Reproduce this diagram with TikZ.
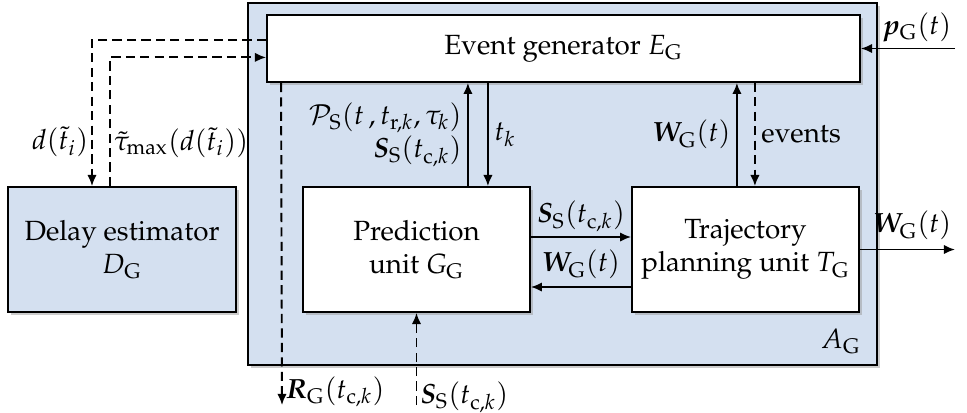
\documentclass[tikz,border=0pt]{standalone}
\usepackage[T1]{fontenc}
\usepackage{mathpazo}
\usepackage{amsmath}
\usepackage{amssymb}
\usepackage{bm}
\usepackage{xcolor}
\usepackage{tikz}
\usetikzlibrary{shadows,arrows.meta,positioning,calc}
\tikzset{>={Latex[length=4pt,width=3.4pt]}}
\definecolor{myblue}{RGB}{212,224,240}

\begin{document}
\begin{tikzpicture}[x=0.36pt, y=-0.36pt,
                    block/.style={draw, black, line width=0.65pt, fill=white, align=center,
                                  drop shadow={shadow xshift=1.1pt, shadow yshift=-1.1pt, fill=black!40}},
                    mysolid/.style={line width=0.7pt, black, ->},
                    mydash/.style={line width=0.7pt, black, dash pattern=on 3.3pt off 1.9pt, ->},
                   ]

\useasboundingbox (0,0) rectangle (967,412);

% boxes
\node[block, fill=myblue, minimum width=226.4pt, minimum height=130.3pt] (AG) at (562.5,184) {};
\node[block, minimum width=213.5pt, minimum height=24.1pt] (EG) at (563.5,48.5) {Event generator $E_{\mathrm{G}}$};
\node[block, fill=myblue, minimum width=82.1pt, minimum height=45pt] (DE) at (122,249.5) {Delay estimator\\$D_{\mathrm{G}}$};
\node[block, minimum width=81.7pt, minimum height=45pt] (PU) at (416.5,249.5) {Prediction\\unit $G_{\mathrm{G}}$};
\node[block, minimum width=81.7pt, minimum height=45pt] (TP) at (745.5,249.5) {Trajectory\\planning unit $T_{\mathrm{G}}$};
\node[anchor=south east, inner sep=2pt] at ([xshift=-4pt,yshift=2pt]AG.south east) {$A_{\mathrm{G}}$};

% free ends
\coordinate (pin) at (955,48.5);
\coordinate (wout) at (955,249.5);
\coordinate (rout) at (282,405);
\coordinate (sin) at (416.5,405);

% delay estimator loop
\draw[mydash] ([yshift=3.2pt]EG.west) -| ([xshift=-10.8pt]DE.north) node[pos=0.85, left, inner sep=1pt] {$d(\tilde{t}_i)$};
\draw[mydash] ([xshift=-4.3pt]DE.north) |- ([yshift=-3.2pt]EG.west) node[pos=0.17, right, inner sep=1pt] {$\tilde{\tau}_{\max}(d(\tilde{t}_i))$};

% event generator <-> prediction unit
\draw[mydash] ([xshift=5.4pt]EG.south west) -- (rout) node[pos=0.985, right, inner sep=1pt, yshift=3pt] {$\bm{R}_{\mathrm{G}}(t_{\mathrm{c},k})$};
\draw[mysolid] ([xshift=18.5pt]PU.north) -- ([xshift=18.5pt]PU.north |- EG.south) node[midway, left, align=right, inner sep=2pt] {$\mathcal{P}_{\mathrm{S}}(t\,,t_{\mathrm{r},k},\tau_k)$\\$\bm{S}_{\mathrm{S}}(t_{\mathrm{c},k})$};
\draw[mysolid] ([xshift=25.7pt]PU.north |- EG.south) -- ([xshift=25.7pt]PU.north) node[midway, right, inner sep=2pt] {$t_k$};
\draw[mydash] (sin) -- (PU.south) node[pos=0.1, right, inner sep=1pt, yshift=-0.5pt] {$\bm{S}_{\mathrm{S}}(t_{\mathrm{c},k})$};

% event generator <-> trajectory planning unit
\draw[mysolid] ([xshift=-3.1pt]TP.north) -- ([xshift=-3.1pt]TP.north |- EG.south) node[midway, left, inner sep=2pt] {$\bm{W}_{\mathrm{G}}(t)$};
\draw[mydash] ([xshift=3.4pt]TP.north |- EG.south) -- ([xshift=3.4pt]TP.north) node[midway, right, inner sep=2pt] {events};
\draw[mysolid] (pin) -- (EG.east) node[pos=0, above left, inner sep=1pt, yshift=1pt] {$\bm{p}_{\mathrm{G}}(t)$};

% prediction unit <-> trajectory planning unit
\draw[mysolid] ([yshift=4.5pt]PU.east) -- ([yshift=4.5pt]PU.east -| TP.west) node[midway, above, inner sep=1.5pt] {$\bm{S}_{\mathrm{S}}(t_{\mathrm{c},k})$};
\draw[mysolid] ([yshift=-13.5pt]TP.west) -- ([yshift=-13.5pt]TP.west -| PU.east) node[midway, above, inner sep=2.5pt] {$\bm{W}_{\mathrm{G}}(t)$};
\draw[mysolid] (TP.east) -- (wout) node[pos=1, above left, inner sep=1pt, yshift=2pt] {$\bm{W}_{\mathrm{G}}(t)$};

\end{tikzpicture}
\end{document}
